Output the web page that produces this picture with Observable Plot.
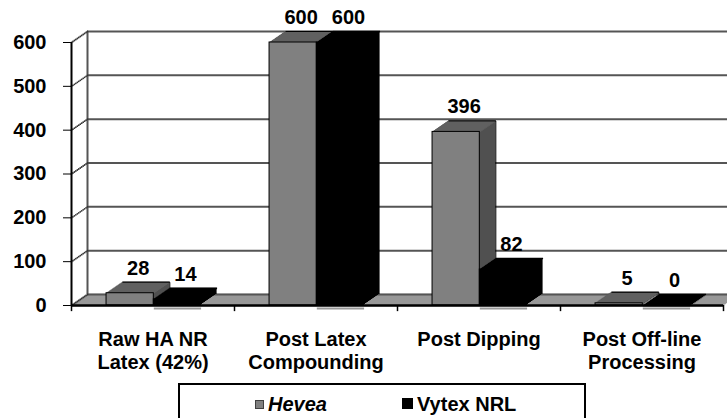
<!DOCTYPE html>
<html>
<head>
<meta charset="utf-8">
<script src="https://cdn.jsdelivr.net/npm/d3@7"></script>
<script src="https://cdn.jsdelivr.net/npm/@observablehq/plot@0.6"></script>
<style>
  html, body { margin: 0; padding: 0; background: #fff; overflow: hidden; }
  #wrap { position: relative; width: 727px; height: 418px; font-family: "Liberation Sans", Arial, sans-serif; }
  #legend { position: absolute; left: 178px; top: 383px; width: 408px; height: 50px; border: 2px solid #000; box-sizing: border-box; }
  .item { position: absolute; top: 8px; font-size: 20px; font-weight: bold; line-height: 22px; white-space: nowrap; }
  .sw { display: inline-block; vertical-align: 2px; margin-right: 4px; box-sizing: border-box; }
</style>
</head>
<body>
<div id="wrap">
  <div id="chart"></div>
  <div id="legend"></div>
</div>
<script>
// ---- data ----
const categories = ["Raw HA NR\nLatex (42%)", "Post Latex\nCompounding", "Post Dipping", "Post Off-line\nProcessing"];
const seriesNames = ["Hevea", "Vytex NRL"];
const heveaValues = [28, 600, 396, 5];
const vytexValues = [14, 600, 82, 0];
const yTicks = [0, 100, 200, 300, 400, 500, 600];

// ---- styling / layout ----
const GAP = 0.215, BW = 0.29;           // fraction of a category slot
const DX = 16, DY = -11, N = 11;        // 3D depth offset in px
const FS = 20;
const styles = [
  {front: "#808080", top: "#606060", side: "#505050", legendBorder: "#404040"},
  {front: "#000000", top: "#000000", side: "#000000", legendBorder: "#000000"}
];

const rows = [];
[heveaValues, vytexValues].forEach((vals, s) => {
  vals.forEach((v, i) => {
    rows.push({cat: categories[i], i, s, series: seriesNames[s], value: v,
      x1: i + GAP + s * BW, x2: i + GAP + (s + 1) * BW});
  });
});
const steps = d3.range(0, N + 1);
const marks = [];

// floor
steps.forEach(k => marks.push(Plot.ruleY([0], {dx: k * DX / N, dy: k * DY / N, stroke: "#999999", strokeWidth: 1.6})));
// back wall gridlines
marks.push(Plot.ruleY(yTicks, {dx: DX, dy: DY, stroke: "#555555", strokeWidth: 2}));
marks.push(Plot.ruleX([0], {y1: 0, y2: 600, dx: DX, dy: DY, stroke: "#555555", strokeWidth: 2}));
// left wall diagonals
steps.forEach(k => marks.push(Plot.dot(yTicks, {x: 0, y: d => d, r: 0.9, fill: "#333333", stroke: null, dx: k * DX / N, dy: k * DY / N})));

// bars
[0, 1].forEach(s => {
  const data = rows.filter(r => r.s === s);
  const st = styles[s];
  d3.range(1, N + 1).forEach(k => marks.push(Plot.rect(data, {x1: "x1", x2: "x2", y1: 0, y2: "value", fill: st.side, dx: k * DX / N, dy: k * DY / N})));
  d3.range(0, N + 1).forEach(k => marks.push(Plot.link(data, {x1: "x1", x2: "x2", y1: "value", y2: "value", stroke: st.top, strokeWidth: 1.6, dx: k * DX / N, dy: k * DY / N})));
  if (s === 0) {
    marks.push(Plot.link(data, {x1: "x1", x2: "x2", y1: "value", y2: "value", stroke: "#000", strokeWidth: 1, dx: DX, dy: DY}));
    marks.push(Plot.link(data, {x1: "x2", x2: "x2", y1: 0, y2: "value", stroke: "#000", strokeWidth: 1, dx: DX, dy: DY}));
  }
  marks.push(Plot.rect(data, {x1: "x1", x2: "x2", y1: 0, y2: "value", fill: st.front, stroke: "#000", strokeWidth: 1}));
});

// front axes
marks.push(Plot.ruleX([0], {y1: 0, y2: 600, stroke: "#000", strokeWidth: 2}));
marks.push(Plot.ruleY([0], {stroke: "#000", strokeWidth: 2.5}));
marks.push(Plot.link(rows.filter(r => r.s === 1), {x1: "x1", x2: "x2", y1: 0, y2: 0, dy: 3, stroke: "#999999", strokeWidth: 2}));
marks.push(Plot.ruleX(d3.range(0, categories.length + 1), {y1: 0, y2: -14, stroke: "#000", strokeWidth: 1.5}));

// category labels
marks.push(Plot.text(categories, {x: (d, i) => i + 0.5, y: 0, text: d => d, dy: 25, lineAnchor: "top", lineHeight: 1.12, fontSize: FS, fontWeight: "bold", fill: "#000"}));
// value labels
marks.push(Plot.text(rows, {x: d => (d.x1 + d.x2) / 2, y: "value", text: d => String(d.value), dx: 8, dy: -25, fontSize: FS, fontWeight: "bold", fill: "#000"}));

const chart = Plot.plot({
  width: 727,
  height: 378,
  marginLeft: 71,
  marginRight: 4,
  marginTop: 42,
  marginBottom: 73,
  style: {fontFamily: "'Liberation Sans', Arial, sans-serif", fontSize: FS + "px", fontWeight: "bold", background: "#fff", color: "#000", overflow: "visible"},
  x: {domain: [0, categories.length], axis: null},
  y: {domain: [0, 600], ticks: yTicks, tickSize: 8, tickPadding: 17, label: null},
  marks
});
document.getElementById("chart").appendChild(chart);

// legend
const legend = document.getElementById("legend");
const legendPos = [75, 222];
seriesNames.forEach((name, s) => {
  const it = document.createElement("div");
  it.className = "item";
  it.style.left = legendPos[s] + "px";
  const sw = document.createElement("span");
  sw.className = "sw";
  const size = s === 0 ? 9 : 11;
  sw.style.width = size + "px";
  sw.style.height = size + "px";
  sw.style.background = styles[s].front;
  sw.style.border = "1px solid " + styles[s].legendBorder;
  it.appendChild(sw);
  const t = document.createElement("span");
  t.textContent = name;
  if (s === 0) t.style.fontStyle = "italic";
  it.appendChild(t);
  legend.appendChild(it);
});
</script>
</body>
</html>
